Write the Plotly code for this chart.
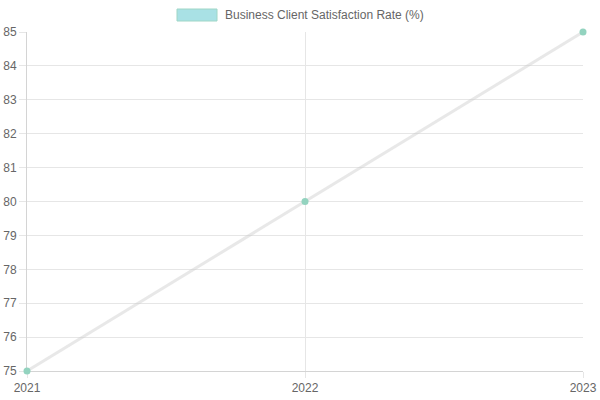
import plotly.graph_objects as go

years = [2021, 2022, 2023]
rates = [75, 80, 85]
series_name = "Business Client Satisfaction Rate (%)"
y_ticks = list(range(75, 86))

fig = go.Figure()
fig.add_trace(go.Scatter(
    x=years, y=rates, mode="lines+markers", name=series_name,
    line=dict(color="rgba(205,205,205,0.45)", width=3),
    marker=dict(color="#93d3bf", size=7),
    showlegend=False, cliponaxis=False,
))

font = dict(family="Liberation Sans, Arial, sans-serif", size=12, color="#666666")

fig.update_layout(
    width=600, height=400,
    margin=dict(l=27, r=17, t=32, b=29, autoexpand=False),
    paper_bgcolor="white", plot_bgcolor="white",
    font=font,
    showlegend=False,
    xaxis=dict(
        range=[2021, 2023], tickvals=years, ticktext=[str(y) for y in years],
        showgrid=True, gridcolor="#e6e6e6", gridwidth=1,
        zeroline=False, showline=True, linecolor="#d4d4d4", linewidth=1,
        ticks="outside", ticklen=6, tickcolor="#e6e6e6",
        tickfont=font, mirror=False, automargin=False, layer="below traces",
    ),
    yaxis=dict(
        range=[75, 85], tickvals=y_ticks,
        showgrid=True, gridcolor="#e6e6e6", gridwidth=1,
        zeroline=False, showline=True, linecolor="#d4d4d4", linewidth=1,
        ticks="outside", ticklen=7, tickcolor="#e6e6e6",
        tickfont=font, automargin=False, layer="below traces",
    ),
    shapes=[dict(
        type="rect", xref="paper", yref="paper",
        x0=(177 - 27) / 556, x1=(217 - 27) / 556,
        y0=(371 - 21) / 339, y1=(371 - 9) / 339,
        fillcolor="rgba(140,215,220,0.75)", line=dict(color="#9fd6c6", width=1),
    )],
    annotations=[dict(
        text=series_name, xref="paper", yref="paper",
        x=(223 - 27) / 556, y=(371 - 15) / 339,
        xanchor="left", yanchor="middle", showarrow=False, font=font,
    )],
)

fig.write_html("out.html")
